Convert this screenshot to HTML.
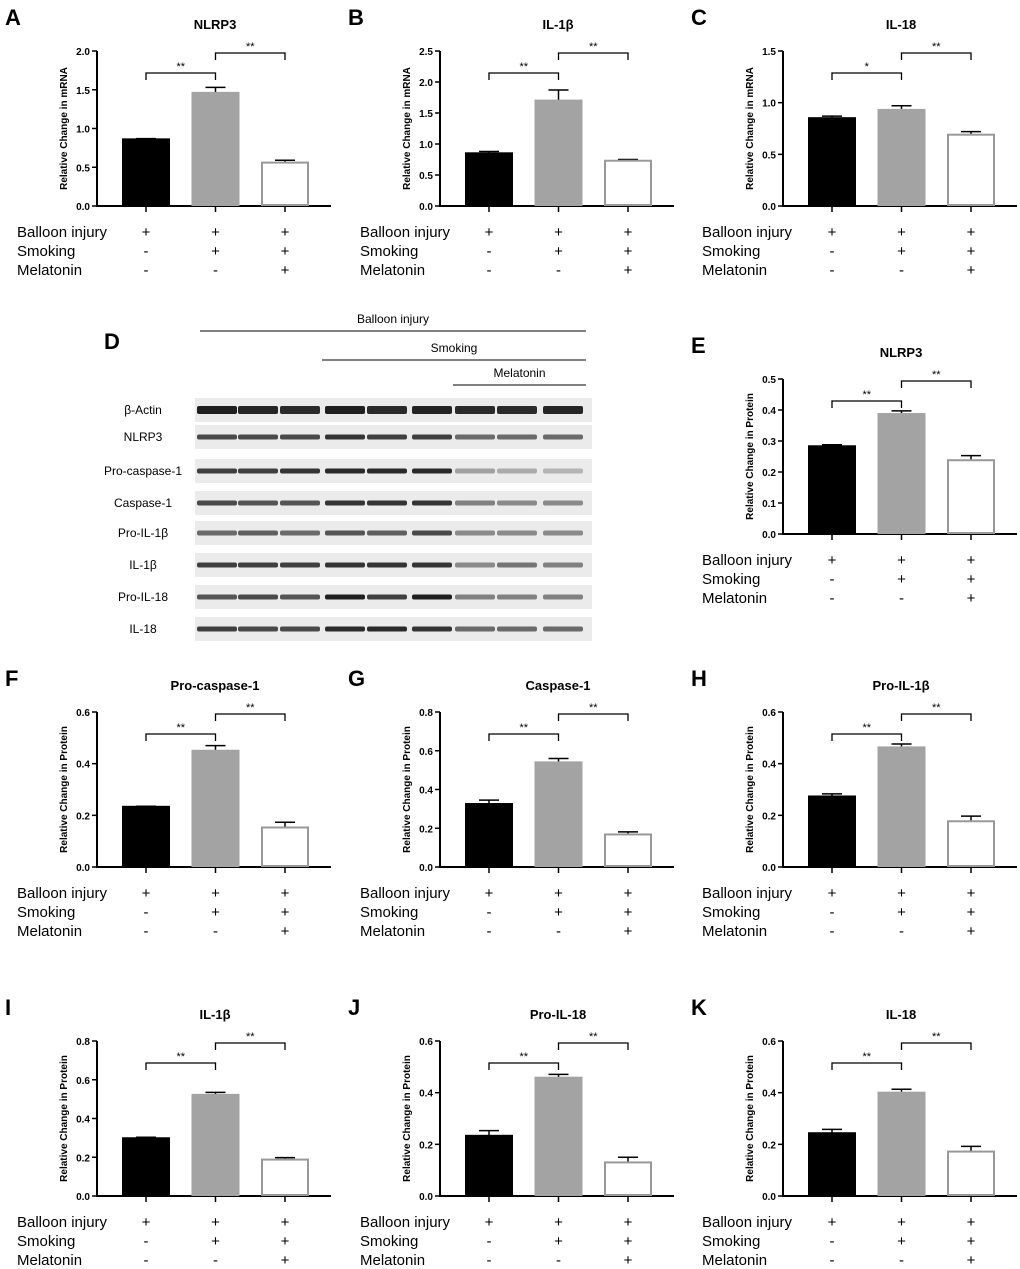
<!DOCTYPE html>
<html><head><meta charset="utf-8">
<style>
html,body{margin:0;padding:0;background:#fff;}
svg{display:block;font-family:"Liberation Sans",Arial,sans-serif;}
</style></head>
<body>
<svg id="fig" width="1020" height="1269" viewBox="0 0 1020 1269" xmlns="http://www.w3.org/2000/svg"></svg>
<script>
// ---- chart data ----
const groupLabels = ["Balloon injury","Smoking","Melatonin"];
const signTable = [["+","+","+"],["-","+","+"],["-","-","+"]];
const panelLetters = ["A","B","C","E","F","G","H","I","J","K"];
const panelTitles = ["NLRP3","IL-1β","IL-18","NLRP3","Pro-caspase-1","Caspase-1","Pro-IL-1β","IL-1β","Pro-IL-18","IL-18"];
const yTitles = ["Relative Change in mRNA","Relative Change in mRNA","Relative Change in mRNA","Relative Change in Protein","Relative Change in Protein","Relative Change in Protein","Relative Change in Protein","Relative Change in Protein","Relative Change in Protein","Relative Change in Protein"];
const yMax = [2.0,2.5,1.5,0.5,0.6,0.8,0.6,0.8,0.6,0.6];
const yStep = [0.5,0.5,0.5,0.1,0.2,0.2,0.2,0.2,0.2,0.2];
const tickDecimals = [1,1,1,1,1,1,1,1,1,1];
const meanControl = [0.86,0.85,0.85,0.283,0.233,0.325,0.273,0.298,0.233,0.243];
const meanSmoking = [1.46,1.70,0.93,0.387,0.450,0.540,0.463,0.522,0.458,0.400];
const meanMelatonin = [0.56,0.73,0.69,0.238,0.153,0.168,0.177,0.188,0.130,0.172];
const errControl = [0.01,0.03,0.02,0.005,0.002,0.02,0.01,0.005,0.02,0.015];
const errSmoking = [0.07,0.17,0.04,0.010,0.020,0.02,0.013,0.013,0.013,0.013];
const errMelatonin = [0.03,0.02,0.03,0.015,0.020,0.013,0.020,0.010,0.020,0.020];
const sigLeft = ["**","**","*","**","**","**","**","**","**","**"];
const sigRight = ["**","**","**","**","**","**","**","**","**","**"];
// blot data
const blotProteins = ["β-Actin","NLRP3","Pro-caspase-1","Caspase-1","Pro-IL-1β","IL-1β","Pro-IL-18","IL-18"];
const blotIntensity = [
 [0.95,0.92,0.9,0.95,0.9,0.93,0.9,0.9,0.92],
 [0.75,0.75,0.75,0.85,0.8,0.8,0.6,0.6,0.6],
 [0.8,0.8,0.85,0.9,0.9,0.9,0.35,0.3,0.25],
 [0.75,0.7,0.7,0.85,0.85,0.85,0.5,0.45,0.45],
 [0.6,0.65,0.6,0.7,0.65,0.75,0.45,0.45,0.45],
 [0.8,0.8,0.8,0.85,0.85,0.85,0.45,0.55,0.5],
 [0.7,0.75,0.7,0.95,0.8,0.95,0.5,0.5,0.5],
 [0.8,0.75,0.75,0.9,0.9,0.85,0.6,0.6,0.6]
];

// ---- layout (not data) ----
const colAxisX = [97,440,783];
const colLabelX = [17,360,702];
const panelCol = [0,1,2,2,0,1,2,0,1,2];
const panelTop = [51,51,51,379,712,712,712,1041,1041,1041];
const plotH = 155;
const NS = "http://www.w3.org/2000/svg";
const svg = document.getElementById("fig");
function mk(tag, attrs, parent, text){
  const e = document.createElementNS(NS, tag);
  for (const k in attrs) e.setAttribute(k, attrs[k]);
  if (text !== undefined) e.textContent = text;
  (parent||svg).appendChild(e);
  return e;
}

for (let p=0;p<10;p++){
  const c = panelCol[p];
  const ax = colAxisX[c], top = panelTop[p], bot = top+plotH;
  const g = mk("g",{});
  
  
  const yS = v => bot - v/yMax[p]*plotH;
  const xS = i => ax + 49 + i*69.5;
  // letter
  const lt = mk("text",{x:ax-92,y:top-26,"font-size":22,"font-weight":"bold"},g,panelLetters[p]);
  
  
  const tt = mk("text",{x:ax+118,y:top-22,"font-size":13,"font-weight":"bold","text-anchor":"middle"},g,panelTitles[p]);
  
  
  // y axis
  mk("line",{x1:ax,y1:top,x2:ax,y2:bot,stroke:"#000","stroke-width":2},g);
  mk("line",{x1:ax-1,y1:bot,x2:ax+234,y2:bot,stroke:"#000","stroke-width":2},g);
  const nT = Math.round(yMax[p]/yStep[p]);
  for (let t=0;t<=nT;t++){
    const v = t*yStep[p], y = yS(v);
    mk("line",{x1:ax-5,y1:y,x2:ax,y2:y,stroke:"#000","stroke-width":1.5},g);
    const tl = mk("text",{x:ax-7,y:y+4,"font-size":10,"font-weight":"bold","text-anchor":"end"},g,v.toFixed(tickDecimals[p]));
    
    
  }
  const yt = mk("text",{x:0,y:0,"font-size":10,"font-weight":"bold","text-anchor":"middle",transform:`translate(${ax-30},${(top+bot)/2}) rotate(-90)`},g,yTitles[p]);
  
  
  const means = [meanControl[p],meanSmoking[p],meanMelatonin[p]];
  const errs = [errControl[p],errSmoking[p],errMelatonin[p]];
  const fills = ["#000","#a3a3a3","#fff"];
  const strokes = ["#000","#a3a3a3","#999"];
  for (let i=0;i<3;i++){
    const cx = xS(i), y = yS(means[i]), ye = yS(means[i]+errs[i]);
    mk("line",{x1:cx,y1:y,x2:cx,y2:ye,stroke:"#000","stroke-width":1.5},g);
    mk("line",{x1:cx-10,y1:ye,x2:cx+10,y2:ye,stroke:"#000","stroke-width":1.5},g);
    const b = mk("rect",{x:cx-23,y:y,width:46,height:bot-y-1,fill:fills[i],stroke:strokes[i],"stroke-width":2},g);
    
    
    mk("line",{x1:cx,y1:bot,x2:cx,y2:bot+6,stroke:"#000","stroke-width":1.5},g);
    for (let r=0;r<3;r++){
      const s = mk("text",{x:cx,y:bot+31+r*19,"font-size":15,"text-anchor":"middle"},g,signTable[r][i]);
      
      
    }
  }
  for (let r=0;r<3;r++){
    const s = mk("text",{x:colLabelX[c],y:bot+31+r*19,"font-size":15},g,groupLabels[r]);
    
    
  }
  // brackets
  const br = [[0,1,top+22,sigLeft[p]],[1,2,top+2,sigRight[p]]];
  br.forEach(([a,b,y,s])=>{
    const x1=xS(a), x2=xS(b);
    const pth = mk("path",{d:`M${x1},${y+7}V${y}H${x2}V${y+7}`,fill:"none",stroke:"#000","stroke-width":1.3},g);
    
    
    mk("text",{x:(x1+x2)/2,y:y-3,"font-size":11,"text-anchor":"middle"},g,s);
  });
}

// ---- western blot panel D ----
const gd = mk("g",{});


mk("text",{x:104,y:349,"font-size":22,"font-weight":"bold"},gd,"D");
const hdr = [["Balloon injury",200,586,331],["Smoking",322,586,360],["Melatonin",453,586,385]];
hdr.forEach(([t,x1,x2,y])=>{
  const tx = mk("text",{x:(x1+x2)/2,y:y-8,"font-size":12,"text-anchor":"middle"},gd,t);
  
  
  mk("line",{x1:x1,y1:y,x2:x2,y2:y,stroke:"#000","stroke-width":1},gd);
});
const rowY = [410,437,471,503,533,565,597,629];
const laneX = [217,258,300,345,387,432,475,517,563];
blotProteins.forEach((name,r)=>{
  const y = rowY[r];
  const lab = mk("text",{x:143,y:y+4,"font-size":12,"text-anchor":"middle"},gd,name);
  
  
  mk("rect",{x:195,y:y-12,width:397,height:24,fill:"#ebebeb"},gd);
  blotIntensity[r].forEach((v,i)=>{
    const gray = Math.round(235 - v*215);
    const band = mk("rect",{x:laneX[i]-20,y:y-(r==0?4:2.5),width:40,height:r==0?8:5,rx:2,fill:`rgb(${gray},${gray},${gray})`},gd);
    
    
  });
});
</script>
</body></html>
